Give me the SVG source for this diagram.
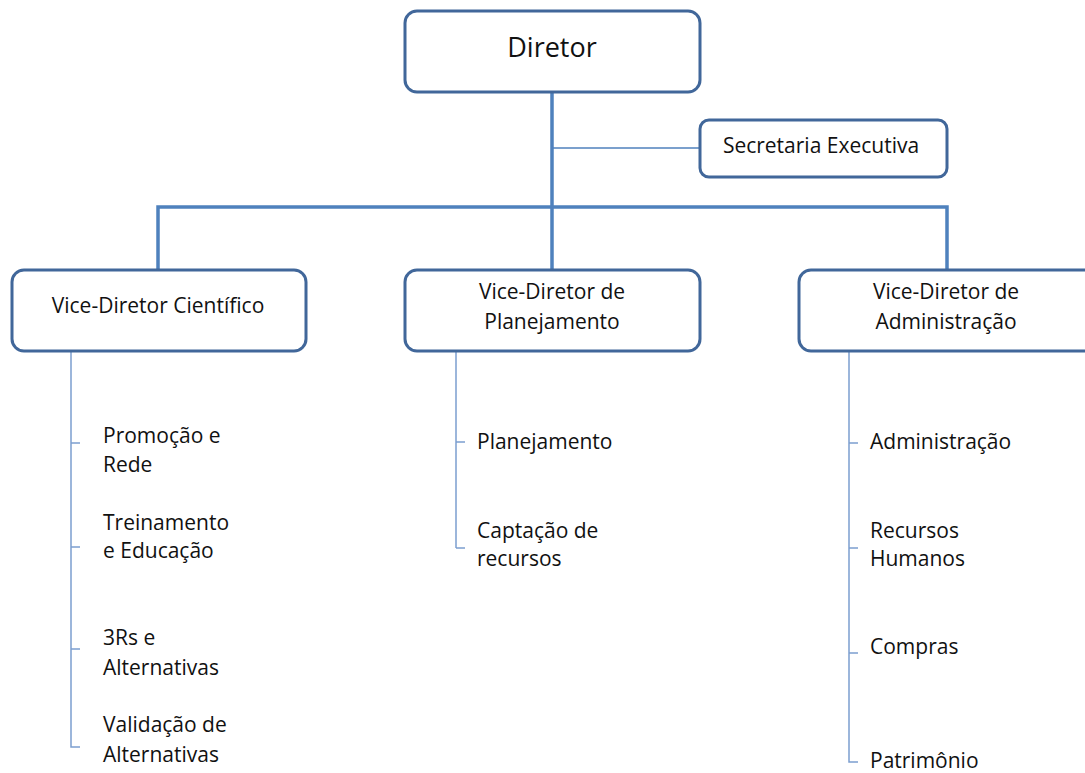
<svg xmlns="http://www.w3.org/2000/svg" width="1085" height="773" viewBox="0 0 1085 773">
<style>
.box{fill:#fff;stroke:#41679a;stroke-width:3}
.t{font-family:"Open Sans","Liberation Sans",Arial,sans-serif;font-size:21px;fill:#111}
.c{text-anchor:middle}
.main{fill:none;stroke:#4f81bd;stroke-width:3.5}
.thin{fill:none;stroke:#4f81bd;stroke-width:1.5}
.sub{fill:none;stroke:#7c9fd0;stroke-width:1.5}
</style>
<rect width="1085" height="773" fill="#fff"/>
<g id="connectors">
<path class="main" d="M552 92V270M158 270V207H947V270"/>
<path class="thin" d="M552 148H700"/>
<path class="sub" d="M80 443H71V351M71 547H80M71 649H80M71 443V747H80"/>
<path class="sub" d="M465 442H456V351M456 548H465M456 442V548"/>
<path class="sub" d="M858 443H849V351M849 548H858M849 653H858M849 443V762H858"/>
</g>
<g id="diretor"><rect class="box" x="405" y="11" width="295" height="81" rx="12"/><text class="t c" x="552" y="57" style="font-size:27px">Diretor</text></g>
<g id="secretaria"><rect class="box" x="700" y="120" width="247" height="57" rx="9"/><text class="t c" x="821" y="153">Secretaria Executiva</text></g>
<g id="vd-cientifico"><rect class="box" x="12" y="270" width="294" height="81" rx="12"/><text class="t c" x="158" y="313">Vice-Diretor Científico</text></g>
<g id="vd-planejamento"><rect class="box" x="405" y="270" width="295" height="81" rx="12"/><text class="t c" x="552" y="299">Vice-Diretor de</text><text class="t c" x="552" y="329">Planejamento</text></g>
<g id="vd-administracao"><rect class="box" x="799" y="270" width="300" height="81" rx="12"/><text class="t c" x="946" y="299">Vice-Diretor de</text><text class="t c" x="946" y="329">Administração</text></g>
<g id="promocao"><text class="t" x="103" y="443">Promoção e</text><text class="t" x="103" y="472">Rede</text></g>
<g id="treinamento"><text class="t" x="103" y="530">Treinamento</text><text class="t" x="103" y="558">e Educação</text></g>
<g id="3rs"><text class="t" x="103" y="645">3Rs e</text><text class="t" x="103" y="675">Alternativas</text></g>
<g id="validacao"><text class="t" x="103" y="732">Validação de</text><text class="t" x="103" y="762">Alternativas</text></g>
<g id="planejamento"><text class="t" x="477" y="449">Planejamento</text></g>
<g id="captacao"><text class="t" x="477" y="538">Captação de</text><text class="t" x="477" y="566">recursos</text></g>
<g id="administracao"><text class="t" x="870" y="449">Administração</text></g>
<g id="rh"><text class="t" x="870" y="538">Recursos</text><text class="t" x="870" y="566">Humanos</text></g>
<g id="compras"><text class="t" x="870" y="654">Compras</text></g>
<g id="patrimonio"><text class="t" x="870" y="768">Patrimônio</text></g>
</svg>
